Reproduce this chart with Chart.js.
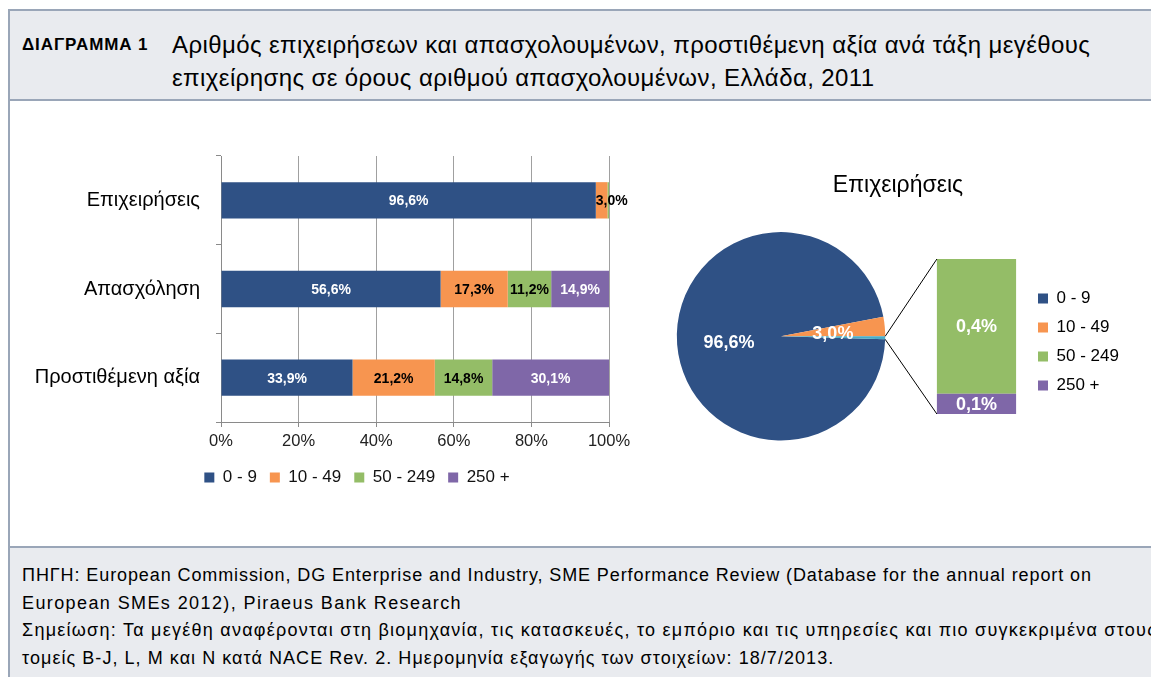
<!DOCTYPE html>
<html>
<head>
<meta charset="utf-8">
<script src="https://cdn.jsdelivr.net/npm/chart.js@4.4.0/dist/chart.umd.min.js"></script>
<style>
  body { margin: 0; width: 1151px; height: 677px; overflow: hidden; background: #fff; position: relative;
         font-family: "Liberation Sans", Arial, sans-serif; color: #000; }
  .frame { position: absolute; left: 8px; top: 9px; width: 1160px; height: 700px;
           border-left: 2px solid #9aa6b8; border-top: 2px solid #9aa6b8; }
  .head { position: absolute; left: 10px; top: 11px; width: 1150px; height: 88px; background: #e9ebef;
          border-bottom: 2px solid #9aa6b8; }
  .tag { position: absolute; left: 22px; top: 35px; font-weight: bold; font-size: 17px; letter-spacing: 0.9px; }
  .ttl { position: absolute; left: 172px; top: 28px; font-size: 24px; line-height: 33px; white-space: nowrap;
         letter-spacing: 0.4px; }
  .foot { position: absolute; left: 10px; top: 546px; width: 1150px; height: 140px; background: #e9ebef;
          border-top: 2px solid #9aa6b8; }
  .src { position: absolute; left: 22px; top: 562px; font-size: 18px; line-height: 27.7px; white-space: nowrap; }
  canvas { position: absolute; }
</style>
</head>
<body>
<div class="frame"></div>
<div class="head"></div>
<div class="tag">ΔΙΑΓΡΑΜΜΑ 1</div>
<div class="ttl">Αριθμός επιχειρήσεων και απασχολουμένων, προστιθέμενη αξία ανά τάξη μεγέθους<br>επιχείρησης σε όρους αριθμού απασχολουμένων, Ελλάδα, 2011</div>
<div class="foot"></div>
<div class="src"><span style="letter-spacing:0.9px">ΠΗΓΗ: European Commission, DG Enterprise and Industry, SME Performance Review (Database for the annual report on</span><br><span style="letter-spacing:1.4px">European SMEs 2012), Piraeus Bank Research</span><br><span style="letter-spacing:1.25px">Σημείωση: Τα μεγέθη αναφέρονται στη βιομηχανία, τις κατασκευές, το εμπόριο και τις υπηρεσίες και πιο συγκεκριμένα στους</span><br><span style="letter-spacing:1.05px">τομείς B-J, L, M και N κατά NACE Rev. 2. Ημερομηνία εξαγωγής των στοιχείων: 18/7/2013.</span></div>

<canvas id="barChart" width="714" height="396" style="left:0px;top:110px"></canvas>
<canvas id="pieChart" width="504" height="350" style="left:646px;top:110px"></canvas>
<canvas id="otherChart" width="255" height="330" style="left:870px;top:110px"></canvas>

<script>
// --- data (shares in %) ---
const categories = ['Επιχειρήσεις', 'Απασχόληση', 'Προστιθέμενη αξία'];
const sizeClasses = ['0 - 9', '10 - 49', '50 - 249', '250 +'];
const share0to9 = [96.6, 56.6, 33.9];
const share10to49 = [3.0, 17.3, 21.2];
const share50to249 = [0.4, 11.2, 14.8];
const share250plus = [0.06, 14.9, 30.1];
const xTicks = [0, 20, 40, 60, 80, 100];
const pieTitle = 'Επιχειρήσεις';

const colors = ['#2f5185', '#f79550', '#94bd67', '#7f67a8'];
const otherColor = '#4bacc6';
const labelColors = ['#fff', '#000', '#000', '#fff'];
const FONT = '"Liberation Sans", Arial, sans-serif';
Chart.defaults.font.family = FONT;
Chart.defaults.color = '#000';

const pct = v => v.toFixed(1).replace('.', ',') + '%';

// move a layout box so that its centre (canvas coords) is where the reference has it
function nudge(box, cx, cy) {
  if (cx != null) { const dx = cx - (box.left + box.right) / 2; box.left += dx; box.right += dx; }
  if (cy != null) { const dy = cy - (box.top + box.bottom) / 2; box.top += dy; box.bottom += dy; }
}

// labels inside the stacked bars
const barLabels = {
  id: 'barLabels',
  afterDatasetsDraw(chart) {
    const ctx = chart.ctx;
    ctx.save();
    ctx.font = 'bold 14px ' + FONT;
    ctx.textBaseline = 'middle';
    chart.data.datasets.forEach((ds, i) => {
      chart.getDatasetMeta(i).data.forEach((bar, j) => {
        const v = ds.data[j];
        if (v < 1) return;
        const txt = pct(v);
        const w = ctx.measureText(txt).width;
        ctx.fillStyle = labelColors[i];
        if (w > bar.x - bar.base) {
          ctx.textAlign = 'left';
          ctx.fillText(txt, bar.base, bar.y + 1);
        } else {
          ctx.textAlign = 'center';
          ctx.fillText(txt, (bar.base + bar.x) / 2, bar.y + 1);
        }
      });
    });
    ctx.restore();
  }
};

const sets = [share0to9, share10to49, share50to249, share250plus];

new Chart(document.getElementById('barChart'), {
  type: 'bar',
  data: {
    labels: categories,
    datasets: sets.map((d, i) => ({
      label: sizeClasses[i], data: d, backgroundColor: colors[i],
      categoryPercentage: 1, barPercentage: 0.41
    }))
  },
  options: {
    indexAxis: 'y',
    responsive: false,
    animation: false,
    layout: { padding: { top: 46, right: 105, bottom: 10, left: 0 } },
    scales: {
      x: {
        stacked: true, min: 0, max: 100,
        afterBuildTicks: s => { s.ticks = xTicks.map(v => ({ value: v })); },
        ticks: { callback: v => v + '%', font: { size: 16.5 }, color: '#222', padding: 5 },
        grid: { color: '#a0a0a0', tickLength: 5, tickColor: '#8a8a8a' },
        border: { color: '#8a8a8a' },
        afterFit: s => { s.height = 34; }
      },
      y: {
        stacked: true,
        ticks: { font: { size: 20 }, color: '#000', padding: 16 },
        grid: { drawOnChartArea: false, tickLength: 5, color: '#8a8a8a' },
        border: { color: '#8a8a8a' },
        afterFit: s => { s.width = 221; }
      }
    },
    plugins: {
      legend: {
        position: 'bottom',
        labels: { boxWidth: 10, boxHeight: 10, padding: 13, font: { size: 17 }, color: '#111' }
      },
      tooltip: { enabled: false }
    }
  },
  plugins: [barLabels, { id: 'legendPos', afterLayout: c => nudge(c.legend, 357, null) }]
});

// --- pie: firms, with 50-249 and 250+ grouped into one slice ---
const firmsOther = share50to249[0] + share250plus[0];
const pieData = [share0to9[0], share10to49[0], firmsOther];
const pieTotal = pieData.reduce((a, b) => a + b, 0);

const pieLabels = {
  id: 'pieLabels',
  afterDatasetsDraw(chart) {
    const ctx = chart.ctx;
    ctx.save();
    ctx.font = 'bold 18px ' + FONT;
    ctx.fillStyle = '#fff';
    ctx.textAlign = 'center';
    ctx.textBaseline = 'middle';
    chart.getDatasetMeta(0).data.forEach((arc, i) => {
      if (i > 1) return;
      const mid = (arc.startAngle + arc.endAngle) / 2;
      const r = arc.outerRadius * 0.5;
      ctx.fillText(pct(pieData[i]), arc.x + r * Math.cos(mid), arc.y + r * Math.sin(mid) + 3);
    });
    ctx.restore();
  }
};

new Chart(document.getElementById('pieChart'), {
  type: 'pie',
  data: {
    labels: [sizeClasses[0], sizeClasses[1], 'other'],
    datasets: [{ data: pieData, backgroundColor: [colors[0], colors[1], otherColor], borderWidth: 0 }]
  },
  options: {
    responsive: false,
    animation: false,
    rotation: 90 + firmsOther / pieTotal * 360,
    layout: { padding: { top: 0, right: 264.5, bottom: 19.5, left: 30.5 } },
    plugins: {
      legend: { display: false },
      tooltip: { enabled: false },
      title: {
        display: true, text: pieTitle, color: '#000',
        font: { size: 23, weight: 'normal' },
        padding: { top: 62.2, bottom: 32.3 }
      }
    }
  },
  plugins: [pieLabels, { id: 'titlePos', afterLayout: c => nudge(c.titleBlock, 252, null) }]
});

// --- bar of pie: breakdown of the grouped slice ---
const otherLabels = {
  id: 'otherLabels',
  afterDatasetsDraw(chart) {
    const ctx = chart.ctx;
    ctx.save();
    ctx.font = 'bold 18px ' + FONT;
    ctx.fillStyle = '#fff';
    ctx.textAlign = 'center';
    ctx.textBaseline = 'middle';
    chart.data.datasets.forEach((ds, i) => {
      const bar = chart.getDatasetMeta(i).data[0];
      ctx.fillText(pct(ds.data[0]), bar.x, (bar.y + bar.base) / 2 + 1);
    });
    ctx.restore();
  },
  afterDraw(chart) {
    // connector lines from the grouped slice to the bar
    const pie = Chart.getChart('pieChart');
    const arc = pie.getDatasetMeta(0).data[2];
    const dx = pie.canvas.offsetLeft - chart.canvas.offsetLeft;
    const dy = pie.canvas.offsetTop - chart.canvas.offsetTop;
    const top = chart.getDatasetMeta(1).data[0];
    const bottom = chart.getDatasetMeta(0).data[0];
    const left = top.x - top.width / 2;
    const ctx = chart.ctx;
    ctx.save();
    ctx.strokeStyle = '#000';
    ctx.lineWidth = 1;
    ctx.beginPath();
    ctx.moveTo(arc.x + dx + arc.outerRadius * Math.cos(arc.startAngle), arc.y + dy + arc.outerRadius * Math.sin(arc.startAngle));
    ctx.lineTo(left, top.y);
    ctx.moveTo(arc.x + dx + arc.outerRadius * Math.cos(arc.endAngle), arc.y + dy + arc.outerRadius * Math.sin(arc.endAngle));
    ctx.lineTo(left, bottom.base);
    ctx.stroke();
    ctx.restore();
  }
};

new Chart(document.getElementById('otherChart'), {
  type: 'bar',
  data: {
    labels: [''],
    datasets: [
      { label: sizeClasses[3], data: [share250plus[0]], backgroundColor: colors[3], categoryPercentage: 1, barPercentage: 0.8 },
      { label: sizeClasses[2], data: [share50to249[0]], backgroundColor: colors[2], categoryPercentage: 1, barPercentage: 0.8 }
    ]
  },
  options: {
    responsive: false,
    animation: false,
    layout: { padding: { top: 149, right: 0, bottom: 26, left: 57 } },
    scales: {
      x: { display: false, stacked: true },
      y: { display: false, stacked: true, min: 0, max: firmsOther }
    },
    plugins: {
      tooltip: { enabled: false },
      legend: {
        position: 'right',
        labels: {
          boxWidth: 10, boxHeight: 10, padding: 12, font: { size: 17 }, color: '#111',
          generateLabels: () => sizeClasses.map((t, i) => ({
            text: t, fillStyle: colors[i], strokeStyle: colors[i], lineWidth: 0, datasetIndex: i
          }))
        }
      }
    }
  },
  plugins: [otherLabels, { id: 'legendPos', afterLayout: c => nudge(c.legend, null, 232) }]
});
</script>
</body>
</html>
